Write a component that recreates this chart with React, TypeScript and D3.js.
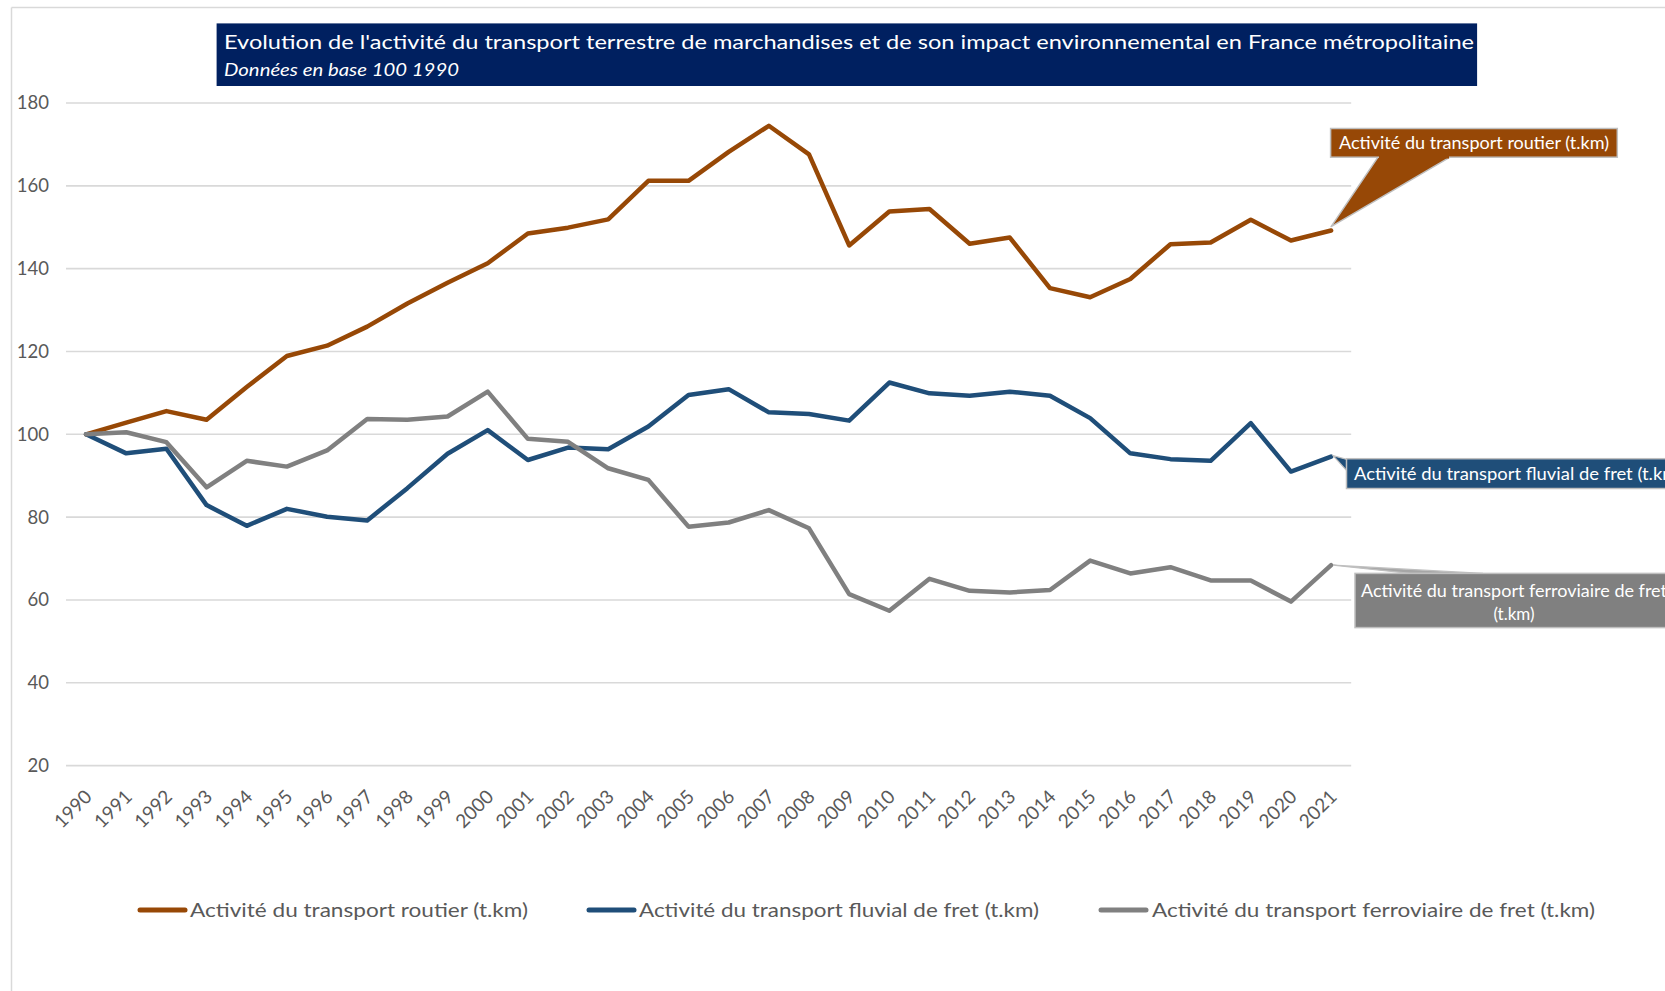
import React from 'react';
import * as d3 from 'd3';

const years = ['1990','1991','1992','1993','1994','1995','1996','1997','1998','1999','2000','2001','2002','2003','2004','2005','2006','2007','2008','2009','2010','2011','2012','2013','2014','2015','2016','2017','2018','2019','2020','2021'];

const routier = [100,102.8,105.6,103.5,111.4,118.9,121.4,126,131.6,136.6,141.3,148.5,149.9,151.9,161.2,161.2,168.2,174.5,167.6,145.6,153.8,154.4,146,147.5,135.3,133.1,137.5,145.9,146.3,151.8,146.8,149.2];
const fluvial = [100,95.4,96.5,82.9,77.9,82,80.1,79.2,87,95.3,101,93.8,96.8,96.4,101.9,109.5,110.9,105.3,104.9,103.3,112.5,109.9,109.3,110.3,109.3,103.9,95.4,94,93.6,102.7,91,94.6];
const ferroviaire = [100,100.5,98.1,87.2,93.6,92.2,96.1,103.7,103.5,104.3,110.3,98.9,98.2,91.8,89,77.7,78.7,81.7,77.3,61.4,57.4,65.1,62.2,61.8,62.4,69.5,66.4,67.9,64.7,64.7,59.6,68.4];

const yTicks = [20,40,60,80,100,120,140,160,180];

const seriesNames = [
  'Activité du transport routier (t.km)',
  'Activité du transport fluvial de fret (t.km)',
  'Activité du transport ferroviaire de fret (t.km)',
];
const seriesColors = ['#974806', '#1F4E79', '#808080'];

const titleText = "Evolution de l'activité du transport terrestre de marchandises et de son impact environnemental en France métropolitaine";
const subtitleText = 'Données en base 100 1990';

const FONT = 'Lato, "Open Sans", sans-serif';

export default function App() {
  const x = d3.scaleBand<string>().domain(years).range([66, 1351.2]).padding(0);
  const cx = (yr: string) => (x(yr) as number) + x.bandwidth() / 2;
  const y = d3.scaleLinear().domain([20, 180]).range([765.6, 103]);

  const line = d3
    .line<number>()
    .x((_, i) => cx(years[i]))
    .y((d) => y(d));

  const allSeries = [routier, fluvial, ferroviaire];
  const lastYear = years[years.length - 1];
  const lx = cx(lastYear);

  const legendItems = [
    { mx: 138, tx: 190, tl: 338 },
    { mx: 587, tx: 639, tl: 400 },
    { mx: 1099, tx: 1152, tl: 443 },
  ];

  const rY = y(routier[routier.length - 1]);
  const fY = y(fluvial[fluvial.length - 1]);
  const gY = y(ferroviaire[ferroviaire.length - 1]);

  return (
    <svg
      width={1665}
      height={991}
      style={{ position: 'absolute', left: 0, top: 0, background: '#fff' }}
      fontFamily={FONT}
    >
      <rect x={0} y={0} width={1665} height={991} fill="#fff" />
      {/* chart frame */}
      <line x1={11.5} y1={7.4} x2={1665} y2={7.4} stroke="#d9d9d9" strokeWidth={1.5} />
      <line x1={11.5} y1={7.4} x2={11.5} y2={991} stroke="#d9d9d9" strokeWidth={1.5} />

      {/* gridlines */}
      {yTicks.map((t) => (
        <line key={t} x1={66} x2={1351.2} y1={y(t)} y2={y(t)} stroke="#d9d9d9" strokeWidth={1.6} />
      ))}
      {/* y labels */}
      {yTicks.map((t) => (
        <text key={'l' + t} x={49} y={y(t)} dy="0.35em" textAnchor="end" fontSize={18.5} fill="#595959">
          {t}
        </text>
      ))}
      {/* x labels */}
      {years.map((yr) => (
        <text
          key={yr}
          transform={`translate(${cx(yr) + 7},798) rotate(-45)`}
          textAnchor="end"
          fontSize={19}
          fill="#595959"
        >
          {yr}
        </text>
      ))}

      {/* series */}
      {allSeries.map((s, i) => (
        <path
          key={i}
          d={line(s) || ''}
          fill="none"
          stroke={seriesColors[i]}
          strokeWidth={4.5}
          strokeLinejoin="round"
          strokeLinecap="round"
        />
      ))}

      {/* title */}
      <rect x={216.6} y={23.4} width={1260.5} height={62.6} fill="#002060" />
      <text x={224} y={49} fontSize={19.5} fill="#fff" textLength={1250} lengthAdjust="spacingAndGlyphs">
        {titleText}
      </text>
      <text x={224} y={76} fontSize={17.5} fontStyle="italic" fill="#fff" textLength={235} lengthAdjust="spacingAndGlyphs">
        {subtitleText}
      </text>

      {/* callout routier */}
      <polygon
        points={`${lx},${rY - 4} 1378,157.2 1450,157.2`}
        fill={seriesColors[0]}
        stroke="#bfbfbf"
        strokeWidth={1.5}
        strokeLinejoin="round"
      />
      <rect x={1330.6} y={128.5} width={286.7} height={28.7} fill={seriesColors[0]} stroke="#bfbfbf" strokeWidth={1.5} />
      <line x1={1379} y1={157.2} x2={1449} y2={157.2} stroke={seriesColors[0]} strokeWidth={2.5} />
      <text x={1474} y={149} textAnchor="middle" fontSize={17} fill="#fff" textLength={270} lengthAdjust="spacingAndGlyphs">
        {seriesNames[0]}
      </text>

      {/* callout fluvial */}
      <polygon
        points={`${lx + 2},${fY - 1} 1347,459.5 1347,471`}
        fill={seriesColors[1]}
        stroke="#bfbfbf"
        strokeWidth={1.2}
      />
      <rect x={1346.5} y={458.7} width={340} height={29.8} fill={seriesColors[1]} stroke="#bfbfbf" strokeWidth={1.5} />
      <text x={1354} y={480} fontSize={17} fill="#fff" textLength={328} lengthAdjust="spacingAndGlyphs">
        {seriesNames[1]}
      </text>

      {/* callout ferroviaire */}
      <polygon
        points={`${lx + 2},${gY} 1410,573.4 1483,573.4`}
        fill="#a6a6a6"
        stroke="#bfbfbf"
        strokeWidth={1.2}
      />
      <rect x={1355} y={573.4} width={318} height={54.2} fill={seriesColors[2]} stroke="#bfbfbf" strokeWidth={1.5} />
      <text x={1514} y={597} textAnchor="middle" fontSize={17} fill="#fff" textLength={306} lengthAdjust="spacingAndGlyphs">
        Activité du transport ferroviaire de fret
      </text>
      <text x={1514} y={620} textAnchor="middle" fontSize={17} fill="#fff">
        (t.km)
      </text>

      {/* legend */}
      {legendItems.map((it, i) => (
        <g key={i}>
          <line x1={it.mx + 2} x2={it.mx + 47} y1={910} y2={910} stroke={seriesColors[i]} strokeWidth={5} strokeLinecap="round" />
          <text x={it.tx} y={910} dy="0.35em" fontSize={19} fill="#595959" textLength={it.tl} lengthAdjust="spacingAndGlyphs">
            {seriesNames[i]}
          </text>
        </g>
      ))}
    </svg>
  );
}
